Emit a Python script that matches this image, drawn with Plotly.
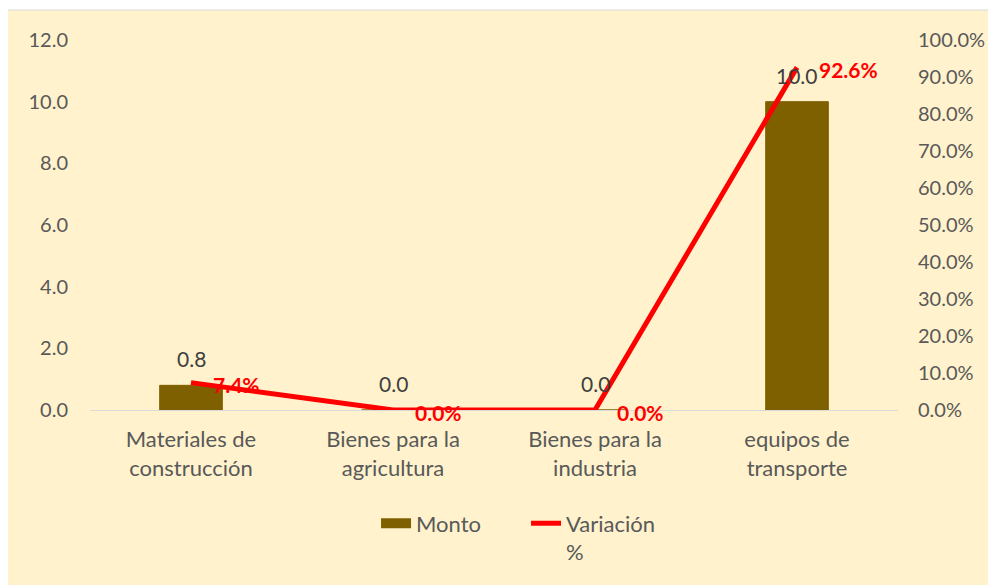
import plotly.graph_objects as go

# Datos del gráfico
categorias = ["Materiales de<br>construcción", "Bienes para la<br>agricultura",
              "Bienes para la<br>industria", "equipos de<br>transporte"]
monto = [0.8, 0.0, 0.0, 10.0]
variacion = [0.074, 0.0, 0.0, 0.926]

fuente = "Lato"
gris = "#595959"
cafe = "#7F6000"

fig = go.Figure()

# Barras de monto
fig.add_trace(go.Bar(
    x=categorias, y=monto, name="Monto", showlegend=False,
    marker=dict(color=cafe, line=dict(color=cafe, width=1)),
))
# muestra de leyenda rectangular para las barras
fig.add_trace(go.Scatter(
    x=[None], y=[None], name="Monto", mode="lines",
    line=dict(color=cafe, width=13),
))

# Linea de variacion en el eje secundario
fig.add_trace(go.Scatter(
    x=categorias, y=variacion, name="Variación<br>%", yaxis="y2",
    mode="lines", line=dict(color="#FF0000", width=5),
    cliponaxis=False,
))

# Etiquetas de datos
for c, m in zip(categorias, monto):
    fig.add_annotation(x=c, y=m, yref="y", text=f"{m:.1f}", showarrow=False,
                       yanchor="bottom", yshift=12,
                       font=dict(family=fuente, size=21, color="#404040"))
for c, v in zip(categorias, variacion):
    fig.add_annotation(x=c, y=v, yref="y2", text=f"<b>{v:.1%}</b>", showarrow=False,
                       xanchor="left", xshift=20, yshift=-2,
                       font=dict(family=fuente, size=21, color="#FF0000"))

# Fondo del area del grafico (en coordenadas paper)
fig.add_shape(type="rect", xref="paper", yref="paper",
              x0=(-4 - 82) / 808, x1=(1000 - 82) / 808,
              y0=(402 - 600) / 370, y1=(402 - 2) / 370,
              fillcolor="#FFF2CC", line=dict(color="#D9D9D9", width=1),
              layer="below")

fig.update_layout(
    width=996, height=585,
    margin=dict(l=82, r=106, t=32, b=183),
    paper_bgcolor="white", plot_bgcolor="rgba(0,0,0,0)",
    font=dict(family=fuente, size=22, color=gris),
    bargap=0.69,
    showlegend=True,
    legend=dict(orientation="h", x=0.354, xanchor="left", y=-0.25, yanchor="top",
                entrywidth=105, valign="top",
                font=dict(family=fuente, size=22, color=gris),
                bgcolor="rgba(0,0,0,0)"),
    xaxis=dict(showgrid=False, showline=True, linecolor="#D9D9D9", linewidth=1,
               ticks="", ticklabelstandoff=10,
               tickfont=dict(family=fuente, size=22, color=gris)),
    yaxis=dict(range=[0, 12], dtick=2, tickformat=".1f", showgrid=False,
               zeroline=False, ticks="outside", ticklen=17, tickcolor="rgba(0,0,0,0)",
               tickfont=dict(family=fuente, size=20, color=gris)),
    yaxis2=dict(range=[0, 1], dtick=0.1, tickformat=".1%", overlaying="y", side="right",
                showgrid=False, zeroline=False, ticks="outside", ticklen=15,
                tickcolor="rgba(0,0,0,0)",
                tickfont=dict(family=fuente, size=20, color=gris)),
)

fig.write_html("out.html")
